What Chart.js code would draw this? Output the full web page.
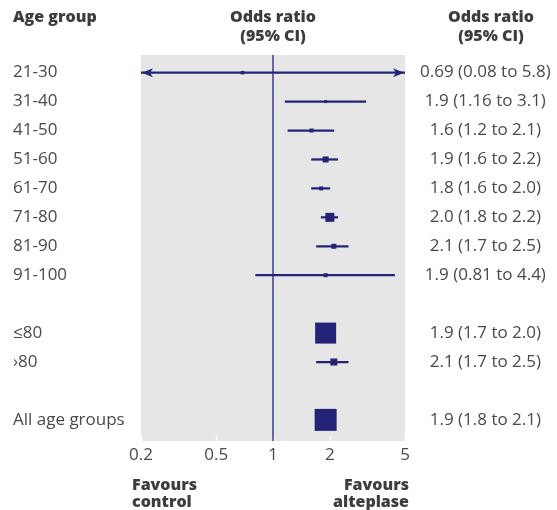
<!DOCTYPE html>
<html>
<head>
<meta charset="utf-8">
<script src="https://cdn.jsdelivr.net/npm/chart.js@4/dist/chart.umd.min.js"></script>
<style>
  html, body { margin: 0; padding: 0; background: #fff; }
  canvas { display: block; }
</style>
</head>
<body>
<canvas id="forest" width="557" height="510"></canvas>
<script>
// Rows of the forest plot, top to bottom; empty strings are spacer rows
const rowLabels = ['21-30', '31-40', '41-50', '51-60', '61-70', '71-80', '81-90', '91-100', '', '≤80', '›80', '', 'All age groups'];

// Odds ratios with 95% confidence intervals per age group
const ageGroups = ['21-30', '31-40', '41-50', '51-60', '61-70', '71-80', '81-90', '91-100', '≤80', '›80', 'All age groups'];
const oddsRatio = [0.69, 1.9, 1.6, 1.9, 1.8, 2.0, 2.1, 1.9, 1.9, 2.1, 1.9];
const ciLower   = [0.08, 1.16, 1.2, 1.6, 1.6, 1.8, 1.7, 0.81, 1.7, 1.7, 1.8];
const ciUpper   = [5.8, 3.1, 2.1, 2.2, 2.0, 2.2, 2.5, 4.4, 2.0, 2.5, 2.1];

// Log axis ticks
const xTicks = [0.2, 0.5, 1, 2, 5];

// ---- styling ----
const NAVY = '#252378';
const BG = '#e6e6e6';
const TEXT = '#4a4a4a';
const HEAD = '#3d3d3d';
const FONT = '"Open Sans", "DejaVu Sans", sans-serif';
const X_MIN = 0.2, X_MAX = 5;
const Y_MIN = -0.61, Y_MAX = 12.73;
// box side length (px) per group, proportional to the group's weight
const boxSide = [3.5, 3, 4, 6, 4, 9, 5, 4, 21, 7, 22];

const rowOf = g => rowLabels.indexOf(g);
const fmt = v => {
  const dec = (String(v).split('.')[1] || '').length;
  return v.toFixed(Math.max(1, dec));
};
const ciText = ageGroups.map((g, i) =>
  `${fmt(oddsRatio[i])} (${fmt(ciLower[i])} to ${fmt(ciUpper[i])})`);

const forestDecor = {
  id: 'forestDecor',
  beforeDatasetsDraw(chart) {
    const { ctx, chartArea: a, scales: { x } } = chart;
    ctx.save();
    ctx.fillStyle = BG;
    ctx.fillRect(a.left, a.top, a.right - a.left, a.bottom - a.top);
    // short white tick marks inside the plot along the bottom edge
    ctx.strokeStyle = '#ffffff';
    ctx.lineWidth = 1.5;
    xTicks.forEach(v => {
      const px = Math.round(x.getPixelForValue(v)) + 0.5;
      ctx.beginPath();
      ctx.moveTo(px, a.bottom);
      ctx.lineTo(px, a.bottom - 5);
      ctx.stroke();
    });
    ctx.restore();
  },
  afterDatasetsDraw(chart) {
    // arrowheads where an interval runs past the axis limits
    const { ctx, chartArea: a, scales: { y } } = chart;
    ctx.save();
    ctx.fillStyle = NAVY;
    const arrow = (tipX, py, dir) => {
      ctx.beginPath();
      ctx.moveTo(tipX, py);
      ctx.lineTo(tipX + dir * 11, py - 4.5);
      ctx.lineTo(tipX + dir * 8, py);
      ctx.lineTo(tipX + dir * 11, py + 4.5);
      ctx.closePath();
      ctx.fill();
    };
    ageGroups.forEach((g, i) => {
      const py = y.getPixelForValue(rowOf(g));
      if (ciLower[i] < X_MIN) arrow(a.left + 1, py, 1);
      if (ciUpper[i] > X_MAX) arrow(a.right - 1, py, -1);
    });
    ctx.restore();
  },
  afterDraw(chart) {
    const { ctx, chartArea: a, scales: { x } } = chart;
    ctx.save();
    ctx.fillStyle = HEAD;
    ctx.font = `800 16px ${FONT}`;
    ctx.textBaseline = 'middle';
    ctx.textAlign = 'left';
    ctx.fillText('Age group', 13, 17);
    ctx.textAlign = 'center';
    const mid = x.getPixelForValue(1);
    ctx.fillText('Odds ratio', mid, 17);
    ctx.fillText('(95% CI)', mid, 36);
    ctx.fillText('Odds ratio', 491, 17);
    ctx.fillText('(95% CI)', 491, 36);
    ctx.textAlign = 'left';
    ctx.fillText('Favours', a.left - 9, 485);
    ctx.fillText('control', a.left - 9, 502);
    ctx.textAlign = 'right';
    ctx.fillText('Favours', a.right + 4, 485);
    ctx.fillText('alteplase', a.right + 4, 502);
    ctx.restore();
  }
};

new Chart(document.getElementById('forest'), {
  type: 'scatter',
  data: {
    datasets: [
      {
        // line of no effect
        type: 'scatter',
        showLine: true,
        data: [{ x: 1, y: Y_MIN }, { x: 1, y: Y_MAX }],
        borderColor: NAVY,
        borderWidth: 1.3,
        pointRadius: 0,
        order: 3
      },
      {
        // confidence intervals
        type: 'bar',
        indexAxis: 'y',
        data: ageGroups.map((g, i) => ({ x: [ciLower[i], ciUpper[i]], y: rowOf(g) })),
        backgroundColor: NAVY,
        borderWidth: 0,
        barThickness: 1.6,
        order: 2
      },
      {
        // point estimates
        type: 'scatter',
        data: ageGroups.map((g, i) => ({ x: oddsRatio[i], y: rowOf(g) })),
        pointStyle: 'rect',
        pointRadius: boxSide.map(s => s / Math.SQRT2),
        pointBackgroundColor: NAVY,
        pointBorderWidth: 0,
        clip: false,
        order: 1
      }
    ]
  },
  options: {
    responsive: false,
    animation: false,
    devicePixelRatio: 1,
    layout: { padding: { left: 13, top: 55, right: 0, bottom: 0 } },
    plugins: { legend: { display: false }, tooltip: { enabled: false } },
    scales: {
      x: {
        type: 'logarithmic',
        position: 'bottom',
        min: X_MIN,
        max: X_MAX,
        beginAtZero: false,
        offset: false,
        afterBuildTicks: s => { s.ticks = xTicks.map(v => ({ value: v })); },
        afterFit: s => { s.height = 69; },
        grid: { display: false, drawTicks: false },
        border: { display: false },
        ticks: {
          autoSkip: false,
          maxRotation: 0,
          padding: 4,
          color: TEXT,
          font: { family: FONT, size: 17 },
          callback: v => String(v)
        }
      },
      y: {
        type: 'linear',
        position: 'left',
        reverse: true,
        min: Y_MIN,
        max: Y_MAX,
        offset: false,
        afterBuildTicks: s => { s.ticks = rowLabels.map((_, i) => ({ value: i })); },
        afterFit: s => { s.width = 128; },
        grid: { display: false, drawTicks: false },
        border: { display: false },
        ticks: {
          autoSkip: false,
          crossAlign: 'far',
          color: TEXT,
          font: { family: FONT, size: 17 },
          callback: v => rowLabels[v]
        }
      },
      yRight: {
        type: 'linear',
        position: 'right',
        reverse: true,
        min: Y_MIN,
        max: Y_MAX,
        offset: false,
        afterBuildTicks: s => { s.ticks = rowLabels.map((_, i) => ({ value: i })); },
        afterFit: s => { s.width = 152; },
        grid: { display: false, drawTicks: false },
        border: { display: false },
        ticks: {
          autoSkip: false,
          crossAlign: 'center',
          padding: 15,
          color: TEXT,
          font: { family: FONT, size: 17 },
          callback: v => {
            const gi = ageGroups.indexOf(rowLabels[v]);
            return gi >= 0 && rowLabels[v] !== '' ? ciText[gi] : '';
          }
        }
      }
    }
  },
  plugins: [forestDecor]
});
</script>
</body>
</html>
